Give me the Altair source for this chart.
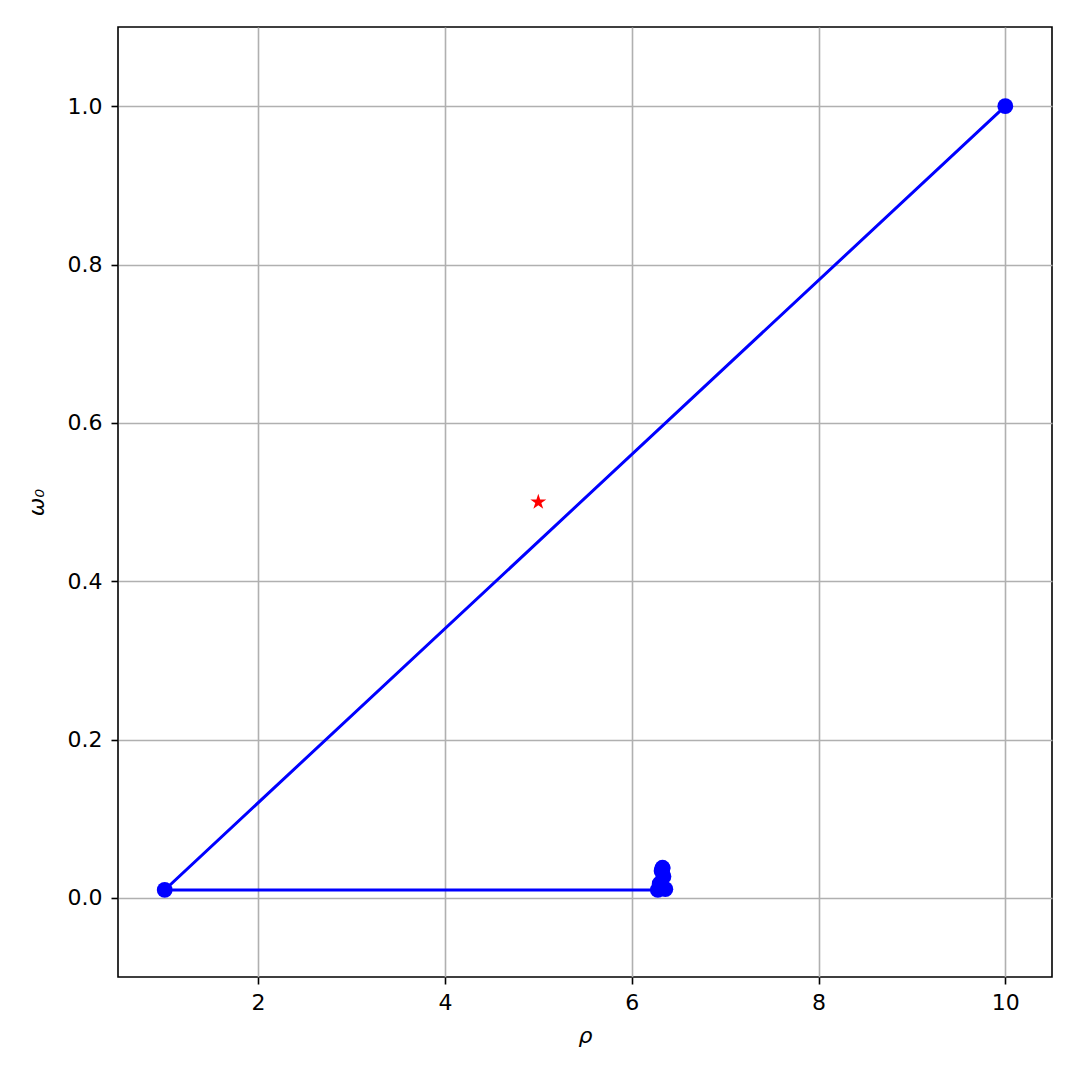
import altair as alt
import pandas as pd

# Iteration path (rho, omega_0)
rho = [10.0, 1.0, 6.28, 6.36, 6.30, 6.34, 6.32, 6.33, 6.33]
omega = [1.0, 0.01, 0.01, 0.011, 0.018, 0.027, 0.034, 0.038, 0.037]
# Reference point (star)
star_rho = [5.0]
star_omega = [0.5]

x_ticks = [2, 4, 6, 8, 10]
y_ticks = [0.0, 0.2, 0.4, 0.6, 0.8, 1.0]

path = pd.DataFrame({"rho": rho, "omega": omega, "step": list(range(len(rho)))})
star = pd.DataFrame({"rho": star_rho, "omega": star_omega})

STAR_PATH = ("M0,-1L0.2245,-0.309L0.951,-0.309L0.363,0.118L0.588,0.809L0,0.382"
             "L-0.588,0.809L-0.363,0.118L-0.951,-0.309L-0.2245,-0.309Z")

xscale = alt.Scale(domain=[0.5, 10.5], nice=False, zero=False)
yscale = alt.Scale(domain=[-0.1, 1.1], nice=False, zero=False)

common = dict(grid=True, gridColor="#b0b0b0", gridWidth=1.6, domain=False,
              tickColor="black", tickSize=7, tickWidth=1.6, labelFont="DejaVu Sans",
              labelFontSize=22, labelColor="black",
              titleFont="DejaVu Sans", titleFontSize=22, titleFontStyle="italic",
              titleFontWeight="normal", titleColor="black")
xaxis = alt.Axis(title="ρ", orient="bottom", values=x_ticks, format="d",
                 labelPadding=8, titlePadding=12, **common)
yaxis = alt.Axis(title="ω₀", orient="left", values=y_ticks, format=".1f",
                 labelPadding=9, titlePadding=19, **common)

X = alt.X("rho:Q", scale=xscale, axis=xaxis)
Y = alt.Y("omega:Q", scale=yscale, axis=yaxis)

line = alt.Chart(path).mark_line(color="blue", strokeWidth=3).encode(
    x=X, y=Y, order="step:Q",
)
pts = alt.Chart(path).mark_point(shape="circle", filled=True, color="blue", opacity=1,
                                 size=250).encode(x=X, y=Y)
st = alt.Chart(star).mark_point(shape=STAR_PATH, filled=True, color="red", opacity=1,
                                size=280).encode(x=X, y=Y)

chart = alt.layer(line, pts, st).properties(
    width=934, height=950,
    background="white",
    autosize=alt.AutoSizeParams(type="none"),
    padding={"left": 110, "top": 19, "right": 20, "bottom": 95},
).configure_view(stroke="black", strokeWidth=1.6)

chart.save("out.html", embed_options={"renderer": "svg", "actions": False})
